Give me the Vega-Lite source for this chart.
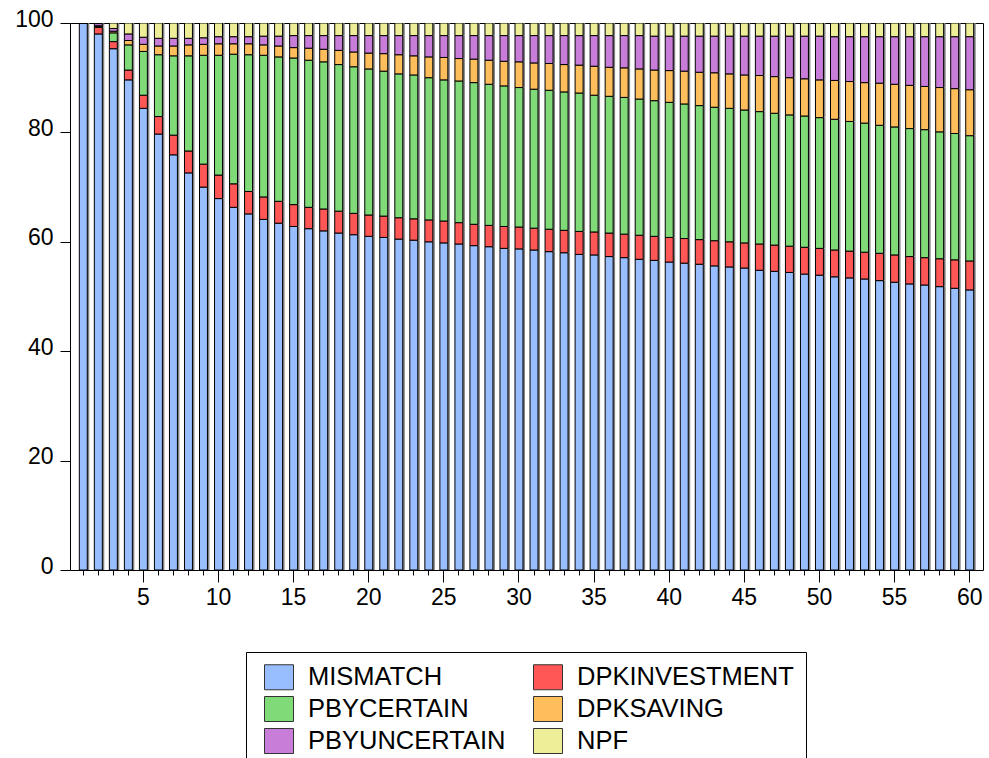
{
 "$schema": "https://vega.github.io/schema/vega-lite/v6.json",
 "width": 913,
 "height": 547,
 "autosize": {"type": "none"},
 "padding": {"left": 70, "top": 23, "right": 6, "bottom": 188},
 "background": "white",
 "config": {"view": {"stroke": "#000", "strokeWidth": 1}, "font": "Liberation Sans"},
 "data": {"values": [
  {"period":1,"MISMATCH":100,"DPKINVESTMENT":0,"PBYCERTAIN":0,"DPKSAVING":0,"PBYUNCERTAIN":0,"NPF":0},
  {"period":2,"MISMATCH":98.0,"DPKINVESTMENT":1.2,"PBYCERTAIN":0.2,"DPKSAVING":0.1,"PBYUNCERTAIN":0.4,"NPF":0.1},
  {"period":3,"MISMATCH":95.3,"DPKINVESTMENT":1.3,"PBYCERTAIN":1.6,"DPKSAVING":0.3,"PBYUNCERTAIN":0.5,"NPF":1.0},
  {"period":4,"MISMATCH":89.6,"DPKINVESTMENT":1.8,"PBYCERTAIN":4.6,"DPKSAVING":0.8,"PBYUNCERTAIN":1.2,"NPF":2.0},
  {"period":5,"MISMATCH":84.4,"DPKINVESTMENT":2.4,"PBYCERTAIN":8.0,"DPKSAVING":1.3,"PBYUNCERTAIN":1.3,"NPF":2.6},
  {"period":6,"MISMATCH":79.7,"DPKINVESTMENT":3.2,"PBYCERTAIN":11.3,"DPKSAVING":1.6,"PBYUNCERTAIN":1.4,"NPF":2.8},
  {"period":7,"MISMATCH":75.9,"DPKINVESTMENT":3.6,"PBYCERTAIN":14.5,"DPKSAVING":1.8,"PBYUNCERTAIN":1.4,"NPF":2.8},
  {"period":8,"MISMATCH":72.6,"DPKINVESTMENT":4.0,"PBYCERTAIN":17.4,"DPKSAVING":2.0,"PBYUNCERTAIN":1.2,"NPF":2.8},
  {"period":9,"MISMATCH":70.0,"DPKINVESTMENT":4.2,"PBYCERTAIN":19.9,"DPKSAVING":2.0,"PBYUNCERTAIN":1.2,"NPF":2.7},
  {"period":10,"MISMATCH":67.9,"DPKINVESTMENT":4.3,"PBYCERTAIN":21.9,"DPKSAVING":2.1,"PBYUNCERTAIN":1.3,"NPF":2.5},
  {"period":11,"MISMATCH":66.3,"DPKINVESTMENT":4.3,"PBYCERTAIN":23.7,"DPKSAVING":1.9,"PBYUNCERTAIN":1.3,"NPF":2.5},
  {"period":12,"MISMATCH":65.1,"DPKINVESTMENT":4.1,"PBYCERTAIN":25.0,"DPKSAVING":2.0,"PBYUNCERTAIN":1.3,"NPF":2.5},
  {"period":13,"MISMATCH":64.1,"DPKINVESTMENT":4.1,"PBYCERTAIN":25.9,"DPKSAVING":1.9,"PBYUNCERTAIN":1.6,"NPF":2.4},
  {"period":14,"MISMATCH":63.4,"DPKINVESTMENT":4.0,"PBYCERTAIN":26.4,"DPKSAVING":2.0,"PBYUNCERTAIN":1.8,"NPF":2.4},
  {"period":15,"MISMATCH":62.8,"DPKINVESTMENT":4.0,"PBYCERTAIN":26.8,"DPKSAVING":1.9,"PBYUNCERTAIN":2.2,"NPF":2.3},
  {"period":16,"MISMATCH":62.4,"DPKINVESTMENT":3.9,"PBYCERTAIN":26.9,"DPKSAVING":2.2,"PBYUNCERTAIN":2.3,"NPF":2.3},
  {"period":17,"MISMATCH":62.0,"DPKINVESTMENT":4.0,"PBYCERTAIN":26.9,"DPKSAVING":2.3,"PBYUNCERTAIN":2.5,"NPF":2.3},
  {"period":18,"MISMATCH":61.6,"DPKINVESTMENT":4.0,"PBYCERTAIN":26.8,"DPKSAVING":2.6,"PBYUNCERTAIN":2.7,"NPF":2.3},
  {"period":19,"MISMATCH":61.3,"DPKINVESTMENT":3.9,"PBYCERTAIN":26.8,"DPKSAVING":2.7,"PBYUNCERTAIN":3.0,"NPF":2.3},
  {"period":20,"MISMATCH":61.0,"DPKINVESTMENT":3.9,"PBYCERTAIN":26.7,"DPKSAVING":2.9,"PBYUNCERTAIN":3.2,"NPF":2.3},
  {"period":21,"MISMATCH":60.8,"DPKINVESTMENT":3.9,"PBYCERTAIN":26.5,"DPKSAVING":3.2,"PBYUNCERTAIN":3.3,"NPF":2.3},
  {"period":22,"MISMATCH":60.5,"DPKINVESTMENT":3.9,"PBYCERTAIN":26.3,"DPKSAVING":3.5,"PBYUNCERTAIN":3.5,"NPF":2.3},
  {"period":23,"MISMATCH":60.3,"DPKINVESTMENT":3.9,"PBYCERTAIN":26.3,"DPKSAVING":3.5,"PBYUNCERTAIN":3.7,"NPF":2.3},
  {"period":24,"MISMATCH":60.0,"DPKINVESTMENT":4.0,"PBYCERTAIN":26.0,"DPKSAVING":3.8,"PBYUNCERTAIN":3.9,"NPF":2.3},
  {"period":25,"MISMATCH":59.8,"DPKINVESTMENT":4.0,"PBYCERTAIN":25.8,"DPKSAVING":4.1,"PBYUNCERTAIN":4.0,"NPF":2.3},
  {"period":26,"MISMATCH":59.6,"DPKINVESTMENT":3.9,"PBYCERTAIN":25.9,"DPKSAVING":4.1,"PBYUNCERTAIN":4.2,"NPF":2.3},
  {"period":27,"MISMATCH":59.3,"DPKINVESTMENT":3.9,"PBYCERTAIN":25.9,"DPKSAVING":4.3,"PBYUNCERTAIN":4.3,"NPF":2.3},
  {"period":28,"MISMATCH":59.1,"DPKINVESTMENT":3.9,"PBYCERTAIN":25.8,"DPKSAVING":4.4,"PBYUNCERTAIN":4.5,"NPF":2.3},
  {"period":29,"MISMATCH":58.8,"DPKINVESTMENT":4.0,"PBYCERTAIN":25.7,"DPKSAVING":4.5,"PBYUNCERTAIN":4.7,"NPF":2.3},
  {"period":30,"MISMATCH":58.7,"DPKINVESTMENT":4.0,"PBYCERTAIN":25.5,"DPKSAVING":4.7,"PBYUNCERTAIN":4.8,"NPF":2.3},
  {"period":31,"MISMATCH":58.5,"DPKINVESTMENT":4.0,"PBYCERTAIN":25.4,"DPKSAVING":4.8,"PBYUNCERTAIN":5.0,"NPF":2.3},
  {"period":32,"MISMATCH":58.2,"DPKINVESTMENT":4.1,"PBYCERTAIN":25.4,"DPKSAVING":4.9,"PBYUNCERTAIN":5.1,"NPF":2.3},
  {"period":33,"MISMATCH":58.0,"DPKINVESTMENT":4.1,"PBYCERTAIN":25.3,"DPKSAVING":5.0,"PBYUNCERTAIN":5.3,"NPF":2.3},
  {"period":34,"MISMATCH":57.7,"DPKINVESTMENT":4.2,"PBYCERTAIN":25.3,"DPKSAVING":5.1,"PBYUNCERTAIN":5.4,"NPF":2.3},
  {"period":35,"MISMATCH":57.6,"DPKINVESTMENT":4.2,"PBYCERTAIN":25.0,"DPKSAVING":5.3,"PBYUNCERTAIN":5.6,"NPF":2.3},
  {"period":36,"MISMATCH":57.3,"DPKINVESTMENT":4.3,"PBYCERTAIN":25.0,"DPKSAVING":5.3,"PBYUNCERTAIN":5.8,"NPF":2.3},
  {"period":37,"MISMATCH":57.1,"DPKINVESTMENT":4.3,"PBYCERTAIN":25.0,"DPKSAVING":5.4,"PBYUNCERTAIN":5.9,"NPF":2.3},
  {"period":38,"MISMATCH":56.8,"DPKINVESTMENT":4.4,"PBYCERTAIN":24.9,"DPKSAVING":5.5,"PBYUNCERTAIN":6.1,"NPF":2.3},
  {"period":39,"MISMATCH":56.6,"DPKINVESTMENT":4.4,"PBYCERTAIN":24.8,"DPKSAVING":5.6,"PBYUNCERTAIN":6.2,"NPF":2.4},
  {"period":40,"MISMATCH":56.3,"DPKINVESTMENT":4.5,"PBYCERTAIN":24.7,"DPKSAVING":5.8,"PBYUNCERTAIN":6.3,"NPF":2.4},
  {"period":41,"MISMATCH":56.1,"DPKINVESTMENT":4.5,"PBYCERTAIN":24.6,"DPKSAVING":6.0,"PBYUNCERTAIN":6.4,"NPF":2.4},
  {"period":42,"MISMATCH":55.9,"DPKINVESTMENT":4.5,"PBYCERTAIN":24.5,"DPKSAVING":6.1,"PBYUNCERTAIN":6.6,"NPF":2.4},
  {"period":43,"MISMATCH":55.6,"DPKINVESTMENT":4.6,"PBYCERTAIN":24.4,"DPKSAVING":6.3,"PBYUNCERTAIN":6.7,"NPF":2.4},
  {"period":44,"MISMATCH":55.4,"DPKINVESTMENT":4.6,"PBYCERTAIN":24.4,"DPKSAVING":6.3,"PBYUNCERTAIN":6.9,"NPF":2.4},
  {"period":45,"MISMATCH":55.2,"DPKINVESTMENT":4.6,"PBYCERTAIN":24.3,"DPKSAVING":6.4,"PBYUNCERTAIN":7.1,"NPF":2.4},
  {"period":46,"MISMATCH":54.8,"DPKINVESTMENT":4.8,"PBYCERTAIN":24.2,"DPKSAVING":6.6,"PBYUNCERTAIN":7.2,"NPF":2.4},
  {"period":47,"MISMATCH":54.6,"DPKINVESTMENT":4.8,"PBYCERTAIN":24.1,"DPKSAVING":6.7,"PBYUNCERTAIN":7.4,"NPF":2.4},
  {"period":48,"MISMATCH":54.4,"DPKINVESTMENT":4.8,"PBYCERTAIN":24.0,"DPKSAVING":6.8,"PBYUNCERTAIN":7.6,"NPF":2.4},
  {"period":49,"MISMATCH":54.1,"DPKINVESTMENT":4.9,"PBYCERTAIN":24.0,"DPKSAVING":6.8,"PBYUNCERTAIN":7.8,"NPF":2.4},
  {"period":50,"MISMATCH":53.9,"DPKINVESTMENT":4.9,"PBYCERTAIN":23.9,"DPKSAVING":6.9,"PBYUNCERTAIN":8.0,"NPF":2.4},
  {"period":51,"MISMATCH":53.6,"DPKINVESTMENT":4.9,"PBYCERTAIN":23.9,"DPKSAVING":7.1,"PBYUNCERTAIN":8.0,"NPF":2.5},
  {"period":52,"MISMATCH":53.4,"DPKINVESTMENT":4.9,"PBYCERTAIN":23.7,"DPKSAVING":7.3,"PBYUNCERTAIN":8.2,"NPF":2.5},
  {"period":53,"MISMATCH":53.2,"DPKINVESTMENT":4.9,"PBYCERTAIN":23.6,"DPKSAVING":7.4,"PBYUNCERTAIN":8.4,"NPF":2.5},
  {"period":54,"MISMATCH":52.9,"DPKINVESTMENT":5.0,"PBYCERTAIN":23.4,"DPKSAVING":7.7,"PBYUNCERTAIN":8.5,"NPF":2.5},
  {"period":55,"MISMATCH":52.6,"DPKINVESTMENT":5.0,"PBYCERTAIN":23.4,"DPKSAVING":7.8,"PBYUNCERTAIN":8.7,"NPF":2.5},
  {"period":56,"MISMATCH":52.3,"DPKINVESTMENT":5.0,"PBYCERTAIN":23.4,"DPKSAVING":7.9,"PBYUNCERTAIN":8.9,"NPF":2.5},
  {"period":57,"MISMATCH":52.1,"DPKINVESTMENT":5.0,"PBYCERTAIN":23.4,"DPKSAVING":7.9,"PBYUNCERTAIN":9.1,"NPF":2.5},
  {"period":58,"MISMATCH":51.8,"DPKINVESTMENT":5.1,"PBYCERTAIN":23.2,"DPKSAVING":8.1,"PBYUNCERTAIN":9.3,"NPF":2.5},
  {"period":59,"MISMATCH":51.5,"DPKINVESTMENT":5.2,"PBYCERTAIN":23.1,"DPKSAVING":8.2,"PBYUNCERTAIN":9.5,"NPF":2.5},
  {"period":60,"MISMATCH":51.2,"DPKINVESTMENT":5.3,"PBYCERTAIN":22.9,"DPKSAVING":8.4,"PBYUNCERTAIN":9.7,"NPF":2.5}
 ]},
 "transform": [
  {"fold": ["MISMATCH","DPKINVESTMENT","PBYCERTAIN","DPKSAVING","PBYUNCERTAIN","NPF"], "as": ["series","value"]},
  {"window": [{"op": "row_number", "as": "stackorder"}], "groupby": ["period"]}
 ],
 "encoding": {
  "x": {
   "field": "period", "type": "ordinal",
   "scale": {"paddingInner": 0.47, "paddingOuter": 0.62},
   "axis": {
    "title": null, "labelAngle": 0, "domain": false, "grid": false,
    "labelExpr": "datum.value % 5 === 0 ? datum.label : ''",
    "labelOverlap": false,
    "tickSize": {"condition": {"test": "datum.value % 5 === 0", "value": 12}, "value": 5},
    "tickColor": "#000", "tickWidth": 1,
    "labelPadding": 4, "labelFontSize": 23, "labelColor": "#000", "labelFont": "Liberation Sans"
   }
  },
  "y": {
   "field": "value", "type": "quantitative", "stack": "zero",
   "scale": {"domain": [0, 100], "nice": false},
   "axis": {
    "title": null, "values": [0, 20, 40, 60, 80, 100], "domain": false, "grid": false,
    "tickSize": 10, "tickColor": "#000", "labelPadding": 7, "labelOffset": -4,
    "labelFontSize": 23, "labelColor": "#000", "labelFont": "Liberation Sans"
   }
  },
  "order": {"field": "stackorder", "type": "quantitative", "sort": "ascending"}
 },
 "layer": [
  {
   "mark": {"type": "bar", "fill": "#808080", "stroke": null, "xOffset": 2, "clip": true}
  },
  {
   "mark": {"type": "bar", "stroke": "#000", "strokeWidth": 1, "clip": true},
   "encoding": {
    "color": {
     "field": "series", "type": "nominal",
     "sort": ["MISMATCH","DPKINVESTMENT","PBYCERTAIN","DPKSAVING","PBYUNCERTAIN","NPF"],
     "scale": {
      "domain": ["MISMATCH","DPKINVESTMENT","PBYCERTAIN","DPKSAVING","PBYUNCERTAIN","NPF"],
      "range": ["#98BEFF","#FF5656","#80DA78","#FFBE5C","#C87ED9","#EEEE98"]
     },
     "legend": {
      "title": null, "orient": "none", "legendX": 176, "legendY": 629,
      "direction": "horizontal", "columns": 2, "columnPadding": 21, "rowPadding": 2,
      "padding": 12, "strokeColor": "#000", "fillColor": "#fff",
      "symbolType": "M-0.52,-1H1.8V1H-0.52Z", "symbolSize": 625,
      "symbolStrokeColor": "#333", "symbolStrokeWidth": 1, "symbolOpacity": 1,
      "labelFontSize": 25.5, "labelFont": "Liberation Sans", "labelOffset": 24,
      "labelLimit": 0, "labelColor": "#000"
     }
    }
   }
  }
 ]
}
